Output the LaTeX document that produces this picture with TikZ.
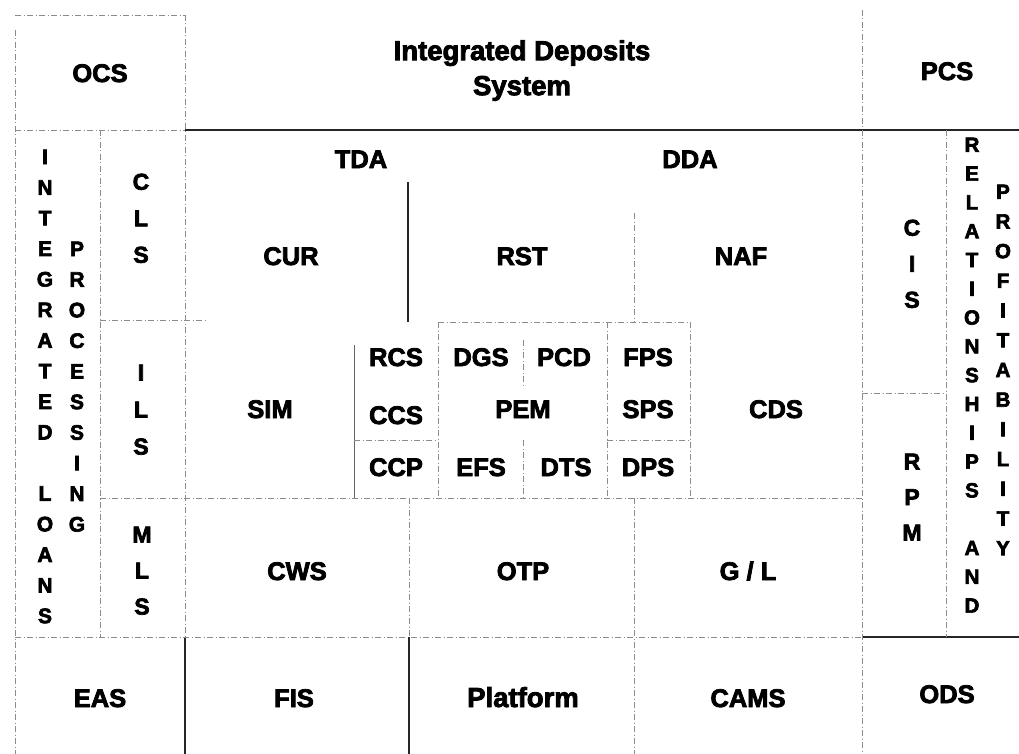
\documentclass[tikz,border=0pt]{standalone}
\usepackage{fontspec}
\setmainfont{Liberation Sans}
\newfontfamily\hv{Liberation Sans Bold}[FakeBold=3]
\begin{document}
\begin{tikzpicture}[x=1pt,y=-1pt,
  lbl/.style={font=\fontsize{25.5}{30}\selectfont\hv, inner sep=0pt, anchor=base},
  mixlbl/.style={font=\fontsize{27.5}{35}\selectfont\hv, inner sep=0pt},
  vcol/.style 2 args={font=\fontsize{#1}{#2}\selectfont\hv, align=center, anchor=north, inner sep=0pt},
  faint/.style={draw=black!45, line width=0.7pt, dash pattern=on 6pt off 2.5pt on 1pt off 2.5pt},
  firm/.style={draw=black!85, line width=1.1pt},
  greyfirm/.style={draw=black!60, line width=0.9pt}]
\useasboundingbox (0,0) rectangle (1019,754);
\fill[white] (0,0) rectangle (1019,754);

% ---- grid lines ----
\draw[faint] (15,15) -- (185,15);
\draw[faint] (15,30) -- (15,754);
\draw[faint] (185,15) -- (185,637);
\draw[firm] (185,637) -- (185,754);
\draw[faint] (15,130) -- (185,130);
\draw[firm] (185,130) -- (1019,130);
\draw[faint] (100,130) -- (100,637);
\draw[faint] (100,320) -- (205,320);
\draw[faint] (100,498) -- (863,498);
\draw[faint] (15,637) -- (862,637);
\draw[firm] (862,637) -- (1019,637);
\draw[firm] (408,182) -- (408,322);
\draw[faint] (409,498) -- (409,637);
\draw[firm] (409,637) -- (409,754);
\draw[faint] (634,213) -- (634,322);
\draw[faint] (634,498) -- (634,754);
\draw[faint] (862,10) -- (862,754);
\draw[faint] (946,130) -- (946,637);
\draw[faint] (862,393) -- (946,393);
% middle block
\draw[greyfirm] (354,345) -- (354,498);
\draw[faint] (438,322) -- (438,498);
\draw[faint] (523,340) -- (523,385);
\draw[faint] (523,440) -- (523,498);
\draw[faint] (607,322) -- (607,498);
\draw[faint] (690,322) -- (690,498);
\draw[faint] (438,322) -- (690,322);
\draw[faint] (354,440) -- (438,440);
\draw[faint] (607,440) -- (690,440);

% ---- labels ----
\node[lbl] (ocs) at (100,82) {OCS};
\node[mixlbl, align=center, anchor=north] (ids) at (522,40) {Integrated Deposits\\System};
\node[lbl] (pcs) at (947,80) {PCS};
\node[lbl] (tda) at (361,168) {TDA};
\node[lbl] (dda) at (690,168) {DDA};
\node[lbl] (cur) at (291,265) {CUR};
\node[lbl] (rst) at (522,265) {RST};
\node[lbl] (naf) at (741,265) {NAF};
\node[lbl] (sim) at (270,418) {SIM};
\node[lbl] (rcs) at (396,366) {RCS};
\node[lbl] (ccs) at (396,424) {CCS};
\node[lbl] (ccp) at (396,476) {CCP};
\node[lbl] (dgs) at (481,366) {DGS};
\node[lbl] (pcd) at (564,366) {PCD};
\node[lbl] (pem) at (523,418) {PEM};
\node[lbl] (efs) at (481,476) {EFS};
\node[lbl] (dts) at (566,476) {DTS};
\node[lbl] (fps) at (648,366) {FPS};
\node[lbl] (sps) at (648,418) {SPS};
\node[lbl] (dps) at (648,476) {DPS};
\node[lbl] (cds) at (776,418) {CDS};
\node[lbl] (cws) at (297,580) {CWS};
\node[lbl] (otp) at (523,580) {OTP};
\node[lbl] (gl) at (748,580) {G / L};
\node[lbl] (eas) at (100,707) {EAS};
\node[lbl] (fis) at (294,707) {FIS};
\node[mixlbl, anchor=base] (plat) at (523,707) {Platform};
\node[lbl] (cams) at (748,707) {CAMS};
\node[lbl] (ods) at (947,703) {ODS};

% ---- vertical columns ----
\node[vcol={21}{30.6}] (il) at (45,149.5) {I\\N\\T\\E\\G\\R\\A\\T\\E\\D\\\phantom{L}\\L\\O\\A\\N\\S};
\node[vcol={21}{30.6}] (proc) at (77,241.5) {P\\R\\O\\C\\E\\S\\S\\I\\N\\G};
\node[vcol={23}{36.5}] (cls) at (141,173.5) {C\\L\\S};
\node[vcol={23}{37}] (ils) at (141,364.5) {I\\L\\S};
\node[vcol={23}{36}] (mls) at (142,526.5) {M\\L\\S};
\node[vcol={23}{36}] (cis) at (912,219.5) {C\\I\\S};
\node[vcol={23}{35.5}] (rpm) at (912,453.5) {R\\P\\M};
\node[vcol={20.5}{28.8}] (rel) at (972,137.5) {R\\E\\L\\A\\T\\I\\O\\N\\S\\H\\I\\P\\S\\\phantom{L}\\A\\N\\D};
\node[vcol={20.5}{29.7}] (prof) at (1003,184.5) {P\\R\\O\\F\\I\\T\\A\\B\\I\\L\\I\\T\\Y};
\end{tikzpicture}
\end{document}
